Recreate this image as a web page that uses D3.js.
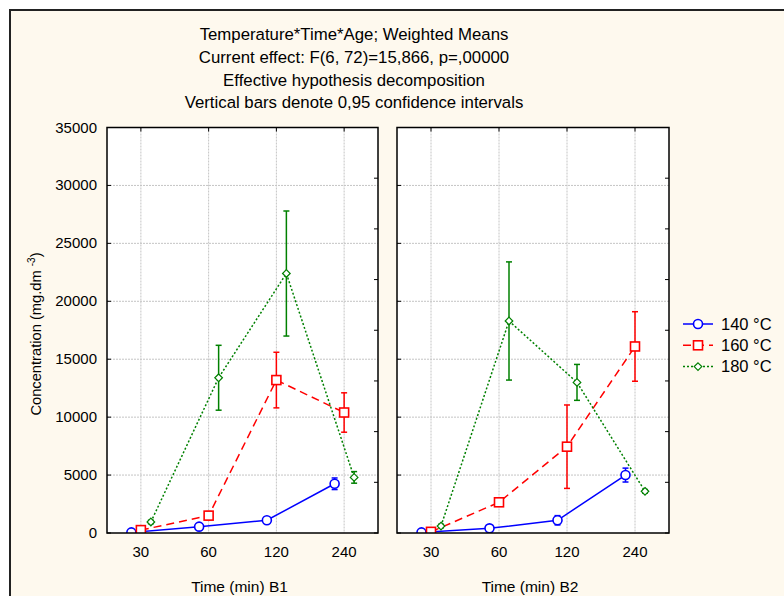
<!DOCTYPE html>
<html>
<head>
<meta charset="utf-8">
<script src="https://cdn.jsdelivr.net/npm/d3@7"></script>
<style>
  body { margin: 0; background: #fff; }
  svg { display: block; font-family: "Liberation Sans", Arial, sans-serif; }
</style>
</head>
<body>
<svg id="chart" width="784" height="596"></svg>
<script>
// categories and series
const timeLabels = ["30", "60", "120", "240"];
const seriesNames = ["140 °C", "160 °C", "180 °C"];
const titleLines = [
  "Temperature*Time*Age; Weighted Means",
  "Current effect: F(6, 72)=15,866, p=,00000",
  "Effective hypothesis decomposition",
  "Vertical bars denote 0,95 confidence intervals"
];
const yTicks = [0, 5000, 10000, 15000, 20000, 25000, 30000, 35000];

// panel B1 means and half-widths of the 95% CI
const b1Mean140 = [50, 550, 1100, 4250];
const b1Ci140 = [80, 120, 150, 500];
const b1Mean160 = [250, 1500, 13200, 10400];
const b1Ci160 = [150, 350, 2400, 1700];
const b1Mean180 = [950, 13400, 22400, 4800];
const b1Ci180 = [150, 2800, 5400, 500];

// panel B2
const b2Mean140 = [50, 400, 1100, 5000];
const b2Ci140 = [60, 100, 400, 600];
const b2Mean160 = [100, 2650, 7450, 16100];
const b2Ci160 = [100, 150, 3600, 3000];
const b2Mean180 = [600, 18300, 13000, 3600];
const b2Ci180 = [150, 5100, 1550, 150];

const panels = [
  { label: "Time (min)  B1", means: [b1Mean140, b1Mean160, b1Mean180], cis: [b1Ci140, b1Ci160, b1Ci180] },
  { label: "Time (min) B2", means: [b2Mean140, b2Mean160, b2Mean180], cis: [b2Ci140, b2Ci160, b2Ci180] }
];

// styles
const colors = ["#0000ff", "#ff0000", "#008000"];
const dashes = [null, "8,5", "2,2"];
const shapes = ["circle", "square", "diamond"];
const xOffsets = [-9.5, 0, 10];

const svg = d3.select("#chart");

// cream page with dark frame
svg.append("rect").attr("x", 10).attr("y", 10).attr("width", 790).attr("height", 600)
  .attr("fill", "#fef9ee").attr("stroke", "#222").attr("stroke-width", 2);

// titles
svg.append("g").selectAll("text").data(titleLines).join("text")
  .attr("x", 354).attr("y", (d, i) => 40 + i * 22.8)
  .attr("text-anchor", "middle").attr("font-size", 16.8).attr("fill", "#000")
  .text(d => d);

const plotTop = 127.5, plotBottom = 533;
const panelX = [[107, 378], [397, 669]];

const y = d3.scaleLinear().domain([0, 35000]).range([plotBottom, plotTop]);

function drawMarker(g, shape, x, yv, color) {
  if (shape === "circle") {
    g.append("circle").attr("cx", x).attr("cy", yv).attr("r", 4.5)
      .attr("fill", "#fff").attr("stroke", color).attr("stroke-width", 1.6);
  } else if (shape === "square") {
    g.append("rect").attr("x", x - 4.5).attr("y", yv - 4.5).attr("width", 9).attr("height", 9)
      .attr("fill", "#fff").attr("stroke", color).attr("stroke-width", 1.6);
  } else {
    const s = 3.8;
    g.append("path").attr("d", `M${x},${yv - s}L${x + s},${yv}L${x},${yv + s}L${x - s},${yv}Z`)
      .attr("fill", "#fff").attr("stroke", color).attr("stroke-width", 1.2);
  }
}

panels.forEach((p, pi) => {
  const [x0, x1] = panelX[pi];
  const x = d3.scalePoint().domain(timeLabels).range([x0, x1]).padding(0.5);
  const g = svg.append("g");

  g.append("rect").attr("x", x0).attr("y", plotTop).attr("width", x1 - x0).attr("height", plotBottom - plotTop)
    .attr("fill", "#fff");

  const clipId = "clip" + pi;
  g.append("clipPath").attr("id", clipId).append("rect")
    .attr("x", x0).attr("y", plotTop).attr("width", x1 - x0).attr("height", plotBottom - plotTop);

  // grid
  g.append("g").selectAll("line").data(yTicks.slice(1, -1)).join("line")
    .attr("x1", x0).attr("x2", x1).attr("y1", d => y(d)).attr("y2", d => y(d))
    .attr("stroke", "#c4c4c4").attr("stroke-dasharray", "2,1");
  g.append("g").selectAll("line").data(timeLabels).join("line")
    .attr("x1", d => x(d)).attr("x2", d => x(d)).attr("y1", plotTop).attr("y2", plotBottom)
    .attr("stroke", "#c4c4c4").attr("stroke-dasharray", "2,1");

  // inward ticks: left at grid values, right at 8 divisions, top at categories
  const tk = g.append("g").attr("stroke", "#000");
  yTicks.forEach(v => tk.append("line").attr("x1", x0).attr("x2", x0 + 4).attr("y1", y(v)).attr("y2", y(v)));
  d3.range(9).forEach(i => {
    const yy = plotBottom - (plotBottom - plotTop) * i / 8;
    tk.append("line").attr("x1", x1 - 4).attr("x2", x1).attr("y1", yy).attr("y2", yy);
  });
  timeLabels.forEach(t => tk.append("line").attr("x1", x(t)).attr("x2", x(t)).attr("y1", plotTop).attr("y2", plotTop + 4));

  // series
  const data = g.append("g").attr("clip-path", `url(#${clipId})`);
  p.means.forEach((m, si) => {
    const pts = m.map((v, i) => [x(timeLabels[i]) + xOffsets[si], y(v)]);
    data.append("path").attr("d", d3.line()(pts))
      .attr("fill", "none").attr("stroke", colors[si]).attr("stroke-width", 1.5)
      .attr("stroke-dasharray", dashes[si]);
    m.forEach((v, i) => {
      const cx = pts[i][0];
      const lo = y(v - p.cis[si][i]), hi = y(v + p.cis[si][i]);
      const eb = data.append("g").attr("stroke", colors[si]).attr("stroke-width", 1.5);
      eb.append("line").attr("x1", cx).attr("x2", cx).attr("y1", lo).attr("y2", hi);
      eb.append("line").attr("x1", cx - 3).attr("x2", cx + 3).attr("y1", lo).attr("y2", lo);
      eb.append("line").attr("x1", cx - 3).attr("x2", cx + 3).attr("y1", hi).attr("y2", hi);
    });
    m.forEach((v, i) => drawMarker(data, shapes[si], pts[i][0], pts[i][1], colors[si]));
  });

  g.append("rect").attr("x", x0).attr("y", plotTop).attr("width", x1 - x0).attr("height", plotBottom - plotTop)
    .attr("fill", "none").attr("stroke", "#000").attr("stroke-width", 1.5);

  // x tick labels
  g.append("g").selectAll("text").data(timeLabels).join("text")
    .attr("x", d => x(d)).attr("y", 557).attr("text-anchor", "middle")
    .attr("font-size", 15).text(d => d);

  g.append("text").attr("x", (x0 + x1) / 2 - 3).attr("y", 592).attr("text-anchor", "middle")
    .attr("font-size", 15.5).text(p.label);

  if (pi === 0) {
    g.append("g").selectAll("text").data(yTicks).join("text")
      .attr("x", 97).attr("y", d => y(d) + 5).attr("text-anchor", "end")
      .attr("font-size", 15).text(d => d);
  }
});

// y axis title
const yt = svg.append("text").attr("transform", "translate(41,334) rotate(-90)")
  .attr("text-anchor", "middle").attr("font-size", 14.7);
yt.append("tspan").text("Concentration (mg.dm ");
yt.append("tspan").attr("font-size", 10).attr("dy", -6).text("-3");
yt.append("tspan").attr("dy", 6).text(")");

// legend
const lg = svg.append("g");
seriesNames.forEach((name, si) => {
  const ly = 324 + si * 21.3;
  lg.append("line").attr("x1", 683).attr("x2", 713).attr("y1", ly).attr("y2", ly)
    .attr("stroke", colors[si]).attr("stroke-width", 1.5).attr("stroke-dasharray", dashes[si]);
  drawMarker(lg, shapes[si], 698, ly, colors[si]);
  lg.append("text").attr("x", 721).attr("y", ly + 5.5).attr("font-size", 16.5).text(name);
});
</script>
</body>
</html>
